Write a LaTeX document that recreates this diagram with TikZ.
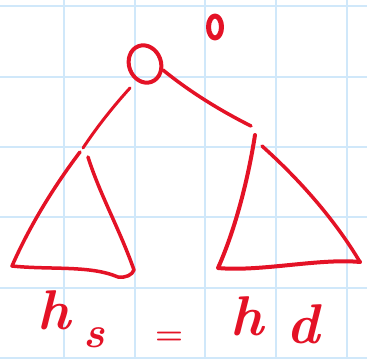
\documentclass[tikz,border=0pt]{standalone}
\usetikzlibrary{shapes.geometric}
\definecolor{ink}{RGB}{228,18,38}
\definecolor{gridblue}{RGB}{208,232,250}
\begin{document}
\begin{tikzpicture}[x=1pt,y=-1pt,
  ink/.style={draw=ink,line cap=round,line join=round},
  gridline/.style={draw=gridblue,line width=2.6pt},
  lbl/.style={text=ink,inner sep=0pt,font=\fontsize{56}{56}\selectfont\bfseries\itshape}]
\useasboundingbox (0,0) rectangle (367,359);
\fill[white] (0,0) rectangle (367,359);
% grid
\foreach \gx in {64,135,205,276,347} \draw[gridline] (\gx,0) -- (\gx,359);
\foreach \gy in {6,77,147,217,288,358} \draw[gridline] (0,\gy) -- (367,\gy);
% root node and its label
\node[ellipse,ink,line width=4pt,minimum width=32pt,minimum height=38pt,inner sep=0pt,rotate=20] (root) at (145,64) {};
\node[ellipse,ink,line width=5pt,minimum width=13pt,minimum height=22pt,inner sep=0pt] (zero) at (215,27) {};
% subtree apexes
\coordinate (la) at (83,148);
\coordinate (ra) at (251,126);
% edges
\draw[ink,line width=3pt] (130,88) .. controls (110,110) and (95,130) .. (la);
\draw[ink,line width=3.5pt] (163,70) .. controls (185,88) and (215,108) .. (ra);
% left triangle
\draw[ink,line width=3.5pt] (80,152) .. controls (55,185) and (30,225) .. (12,266)
  .. controls (50,270) and (90,265) .. (118,277) .. controls (126,278) and (132,275) .. (134,270)
  .. controls (120,230) and (100,195) .. (88,157);
% right triangle
\draw[ink,line width=4pt] (255,135) .. controls (248,180) and (235,230) .. (218,268)
  .. controls (260,272) and (320,258) .. (360,262);
\draw[ink,line width=3.5pt] (262,146) .. controls (300,180) and (335,220) .. (360,262);
% labels
\node[lbl] (hs) at (54,310) {h};
\node[lbl,font=\fontsize{44}{44}\selectfont\bfseries\itshape] (s) at (94,338) {s};
\node[lbl,font=\fontsize{32}{32}\selectfont\bfseries] (eq) at (169,338) {=};
\node[lbl] (hd) at (247,316) {h};
\node[lbl] (d) at (303,324) {d};
\end{tikzpicture}
\end{document}
